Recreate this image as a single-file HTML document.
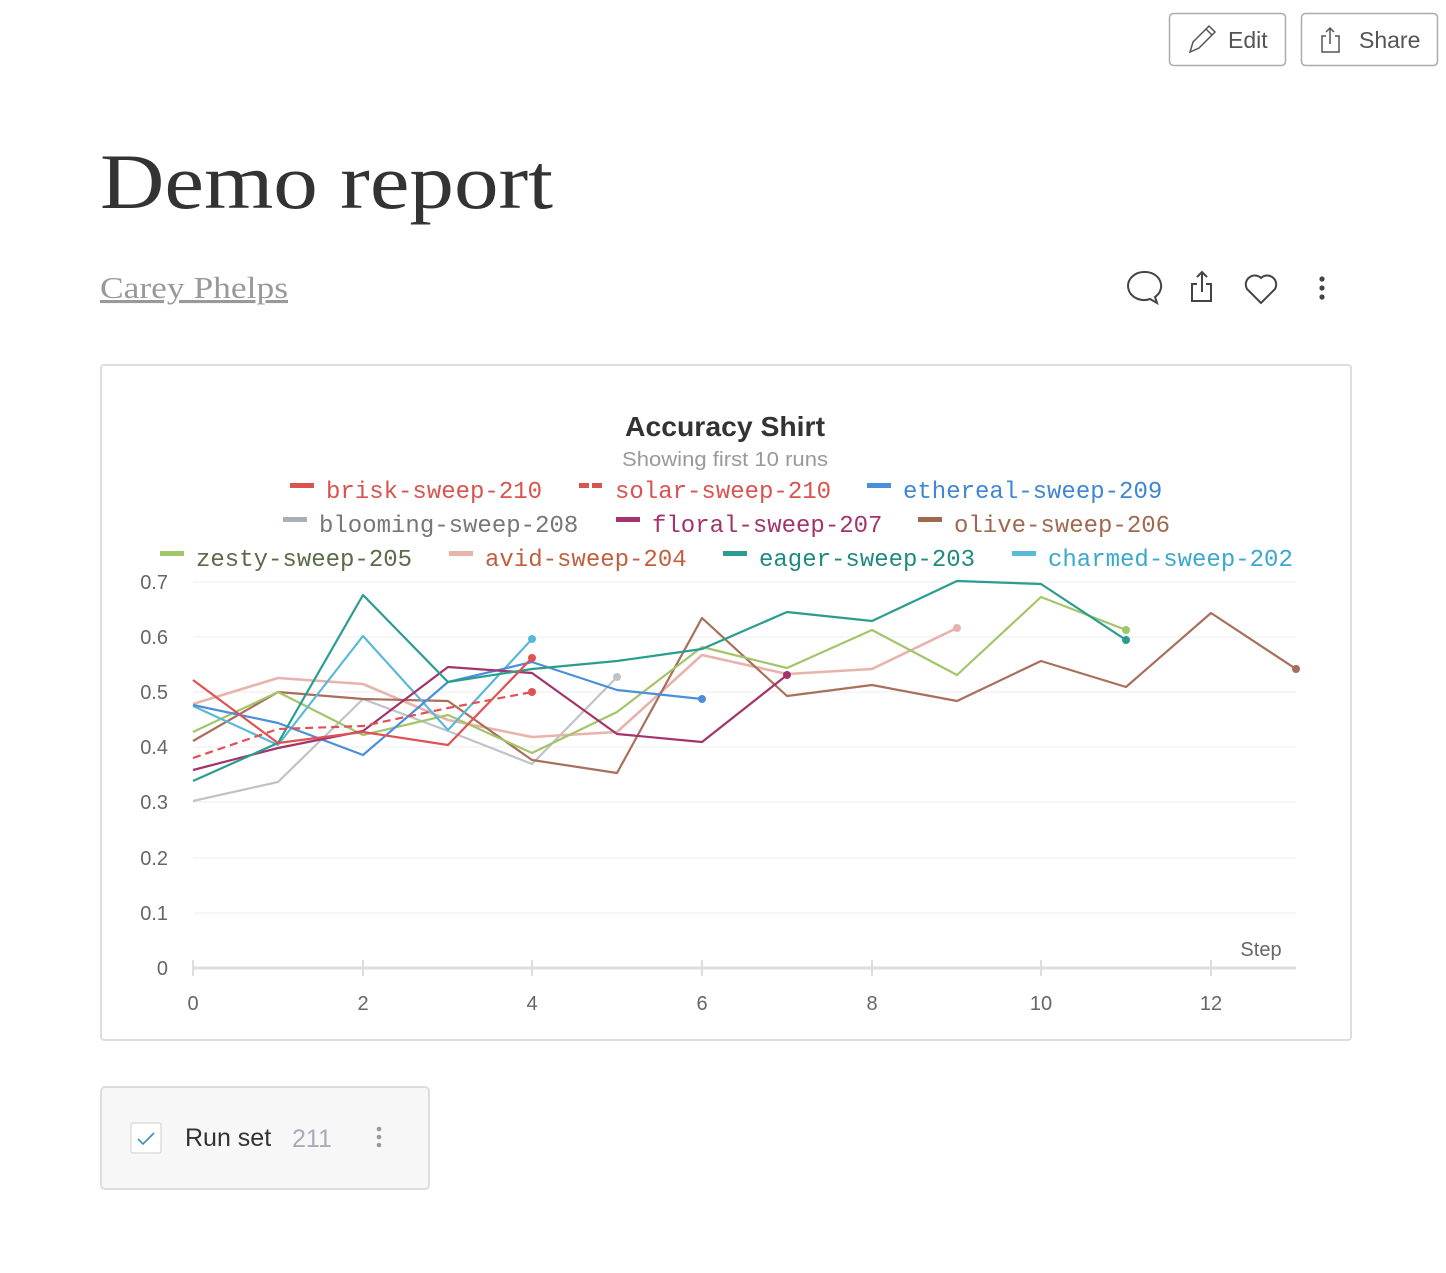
<!DOCTYPE html>
<html><head><meta charset="utf-8"><style>
body{margin:0;background:#fff;width:1446px;height:1268px;overflow:hidden;font-family:"Liberation Sans",sans-serif}
</style></head><body>
<svg width="1446" height="1268" xmlns="http://www.w3.org/2000/svg">
<rect x="1169.5" y="13.5" width="116" height="52" rx="4" fill="#fff" stroke="#a8abb5" stroke-width="1.5"/>
<path d="M1190 52 l3-10 16-16 6 6-16 16z M1206 29 l6 6" fill="none" stroke="#555" stroke-width="1.5"/>
<text x="1228" y="48" font-size="23" fill="#555">Edit</text>
<rect x="1301.5" y="13.5" width="136" height="52" rx="4" fill="#fff" stroke="#a8abb5" stroke-width="1.5"/>
<path d="M1326 36 h-4 v16 h17 v-16 h-4 M1330 44 v-16 M1326 32 l4-4 4 4" fill="none" stroke="#555" stroke-width="1.5"/>
<text x="1359" y="48" font-size="23" fill="#555">Share</text>
<text x="100" y="208" font-family="Liberation Serif,serif" font-size="78" fill="#333" textLength="453" lengthAdjust="spacingAndGlyphs">Demo report</text>
<text x="100" y="298" font-family="Liberation Serif,serif" font-size="31" fill="#999" text-decoration="underline" textLength="188" lengthAdjust="spacingAndGlyphs">Carey Phelps</text>
<path d="M1144 272 a16 14 0 1 0 6 27 l7 4 -2 -6 a16 14 0 0 0 -11 -25z" fill="none" stroke="#444" stroke-width="2"/>
<path d="M1197 284 h-5 v17 h19 v-17 h-5 M1202 292 v-20 M1197 277 l5-5 5 5" fill="none" stroke="#444" stroke-width="2"/>
<path d="M1261 303 l-14-14 a9 9 0 0 1 14-11 a9 9 0 0 1 14 11z" fill="none" stroke="#444" stroke-width="2"/>
<circle cx="1322" cy="279" r="2.6" fill="#444"/><circle cx="1322" cy="288" r="2.6" fill="#444"/><circle cx="1322" cy="297" r="2.6" fill="#444"/>
<rect x="101" y="365" width="1250" height="675" rx="3" fill="#fff" stroke="#ddd" stroke-width="2"/>
<text x="725" y="436" text-anchor="middle" font-size="28" font-weight="bold" fill="#333" textLength="200" lengthAdjust="spacingAndGlyphs">Accuracy Shirt</text>
<text x="725" y="466" text-anchor="middle" font-size="20" fill="#999" textLength="206" lengthAdjust="spacingAndGlyphs">Showing first 10 runs</text>
<g font-family="Liberation Mono,monospace" font-size="24">
<rect x="290" y="483" width="24" height="5" fill="#d9534f"/><text x="326" y="498" fill="#d9534f">brisk-sweep-210</text>
<rect x="579" y="483" width="10" height="5" fill="#d9534f"/><rect x="592" y="483" width="10" height="5" fill="#d9534f"/><text x="615" y="498" fill="#d9534f">solar-sweep-210</text>
<rect x="867" y="483" width="24" height="5" fill="#4a8fdb"/><text x="903" y="498" fill="#3f86d3">ethereal-sweep-209</text>
<rect x="283" y="517" width="24" height="5" fill="#aab0b8"/><text x="319" y="532" fill="#777">blooming-sweep-208</text>
<rect x="616" y="517" width="24" height="5" fill="#a3336b"/><text x="652" y="532" fill="#a3336b">floral-sweep-207</text>
<rect x="918" y="517" width="24" height="5" fill="#a0694f"/><text x="954" y="532" fill="#a0694f">olive-sweep-206</text>
<rect x="160" y="551" width="24" height="5" fill="#a3c56a"/><text x="196" y="566" fill="#5b6a47">zesty-sweep-205</text>
<rect x="449" y="551" width="24" height="5" fill="#e8b3ab"/><text x="485" y="566" fill="#c0603f">avid-sweep-204</text>
<rect x="723" y="551" width="24" height="5" fill="#2a9d8f"/><text x="759" y="566" fill="#1f8a80">eager-sweep-203</text>
<rect x="1012" y="551" width="24" height="5" fill="#5ab8d8"/><text x="1048" y="566" fill="#3aa8cf">charmed-sweep-202</text>
</g>
<g stroke="#eee" stroke-width="1">
<line x1="193" x2="1296" y1="582" y2="582"/><line x1="193" x2="1296" y1="637" y2="637"/><line x1="193" x2="1296" y1="692" y2="692"/><line x1="193" x2="1296" y1="747" y2="747"/><line x1="193" x2="1296" y1="802" y2="802"/><line x1="193" x2="1296" y1="858" y2="858"/><line x1="193" x2="1296" y1="913" y2="913"/>
</g>
<line x1="193" x2="1296" y1="968" y2="968" stroke="#ddd" stroke-width="3"/>
<g stroke="#ddd" stroke-width="2"><line x1="193" x2="193" y1="960" y2="976"/><line x1="363" x2="363" y1="960" y2="976"/><line x1="532" x2="532" y1="960" y2="976"/><line x1="702" x2="702" y1="960" y2="976"/><line x1="872" x2="872" y1="960" y2="976"/><line x1="1041" x2="1041" y1="960" y2="976"/><line x1="1211" x2="1211" y1="960" y2="976"/></g>
<g font-size="20" fill="#666" text-anchor="end">
<text x="168" y="589">0.7</text><text x="168" y="644">0.6</text><text x="168" y="699">0.5</text><text x="168" y="754">0.4</text><text x="168" y="809">0.3</text><text x="168" y="865">0.2</text><text x="168" y="920">0.1</text><text x="168" y="975">0</text>
</g>
<g font-size="20" fill="#666" text-anchor="middle">
<text x="193" y="1010">0</text><text x="363" y="1010">2</text><text x="532" y="1010">4</text><text x="702" y="1010">6</text><text x="872" y="1010">8</text><text x="1041" y="1010">10</text><text x="1211" y="1010">12</text>
<text x="1261" y="956">Step</text>
</g>
<g fill="none" stroke-width="2.2" stroke-linejoin="round">
<polyline stroke="#bfc3c9" points="193,801 278,782 363,699 448,731 532,764 617,677"/>
<polyline stroke="#e8b3ab" stroke-width="2.6" points="193,704 278,678 363,684 448,720 532,737 617,732 702,655 787,674 872,669 957,628"/>
<polyline stroke="#a86f5a" points="193,741 278,692 363,699 448,701 532,760 617,773 702,618 787,696 872,685 957,701 1041,661 1126,687 1211,613 1296,669"/>
<polyline stroke="#a3c56a" points="193,732 278,692 363,735 448,715 532,753 617,712 702,647 787,668 872,630 957,675 1041,597 1126,630"/>
<polyline stroke="#5ab8d8" points="193,706 278,745 363,636 448,730 532,639"/>
<polyline stroke="#4a8fdb" points="193,705 278,723 363,755 448,682 532,662 617,690 702,699"/>
<polyline stroke="#a3336b" points="193,770 278,748 363,731 448,667 532,673 617,734 702,742 787,675"/>
<polyline stroke="#2a9d8f" points="193,781 278,743 363,595 448,682 532,669 617,661 702,649 787,612 872,621 957,581 1041,584 1126,640"/>
<polyline stroke="#e05252" points="193,680 278,743 363,732 448,745 532,658"/>
<polyline stroke="#e05252" stroke-dasharray="8,5" points="193,758 278,729 363,726 448,708 532,692"/>
</g>
<circle cx="617" cy="677" r="4" fill="#bfc3c9"/><circle cx="957" cy="628" r="4" fill="#e8b3ab"/><circle cx="1296" cy="669" r="4" fill="#a86f5a"/><circle cx="1126" cy="630" r="4" fill="#a3c56a"/><circle cx="532" cy="639" r="4" fill="#5ab8d8"/><circle cx="702" cy="699" r="4" fill="#4a8fdb"/><circle cx="787" cy="675" r="4" fill="#a3336b"/><circle cx="1126" cy="640" r="4" fill="#2a9d8f"/><circle cx="532" cy="658" r="4" fill="#e05252"/><circle cx="532" cy="692" r="4" fill="#e05252"/>
<rect x="101" y="1087" width="328" height="102" rx="4" fill="#f7f7f7" stroke="#ddd" stroke-width="2"/>
<rect x="131" y="1123" width="30" height="30" rx="2" fill="#fff" stroke="#ddd" stroke-width="1.5"/>
<path d="M138 1139 l5 5 11-11" fill="none" stroke="#3a8fc4" stroke-width="1.6"/>
<text x="185" y="1146" font-size="25" fill="#333">Run set</text>
<text x="292" y="1147" font-size="25" fill="#aab">211</text>
<circle cx="379" cy="1129" r="2.3" fill="#999"/><circle cx="379" cy="1137" r="2.3" fill="#999"/><circle cx="379" cy="1145" r="2.3" fill="#999"/>
</svg>
</body></html>
